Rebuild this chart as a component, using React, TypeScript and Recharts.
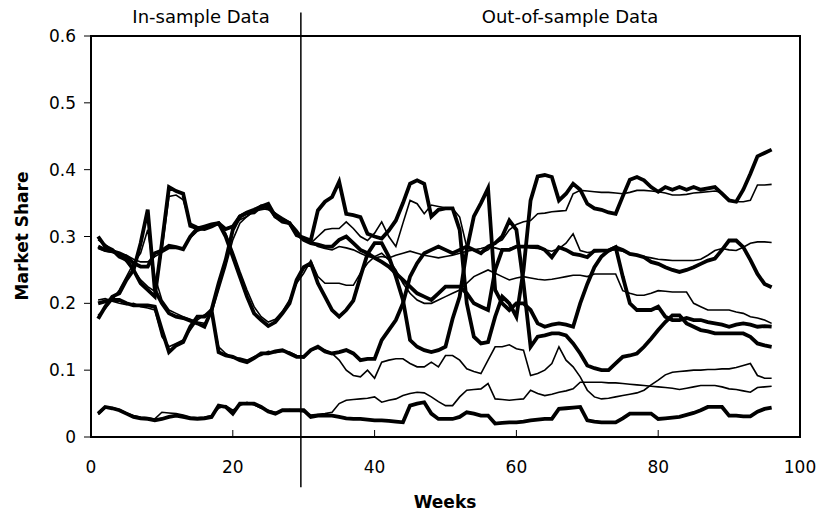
import { LineChart, Line, XAxis, YAxis, ReferenceLine, ReferenceArea } from "recharts";

// weekly market share, actual (thick) vs model (thin), brands A-E
const weeks = Array.from({ length: 96 }, (_, i) => i + 1);
const splitWeek = 29.6;

const aAct = [
  0.177, 0.195, 0.21, 0.215, 0.235, 0.25, 0.29, 0.34, 0.22, 0.2,
  0.185, 0.18, 0.178, 0.174, 0.17, 0.165, 0.19, 0.23, 0.265, 0.31,
  0.33, 0.335, 0.336, 0.345, 0.345, 0.33, 0.322, 0.32, 0.302, 0.298,
  0.294, 0.339, 0.352, 0.359, 0.382, 0.334, 0.332, 0.329, 0.304, 0.3,
  0.297, 0.309, 0.324, 0.35, 0.379, 0.384, 0.379, 0.33, 0.34, 0.342,
  0.342, 0.31, 0.2, 0.15, 0.14, 0.142, 0.18, 0.21, 0.2, 0.18,
  0.25, 0.354, 0.39, 0.392, 0.389, 0.354, 0.364, 0.379, 0.37, 0.349,
  0.342, 0.34, 0.336, 0.334, 0.36, 0.385, 0.389, 0.384, 0.374, 0.367,
  0.374, 0.37, 0.374, 0.37, 0.374, 0.37, 0.372, 0.374, 0.364, 0.354,
  0.352, 0.37, 0.394, 0.42, 0.425, 0.43,
];
const aPred = [
  0.182, 0.192, 0.205, 0.22, 0.24, 0.26, 0.275, 0.31, 0.24, 0.205,
  0.19, 0.185, 0.18, 0.176, 0.172, 0.17, 0.185, 0.22, 0.255, 0.295,
  0.32, 0.33, 0.338, 0.34, 0.342, 0.335, 0.325, 0.318, 0.305, 0.295,
  0.29, 0.3, 0.31, 0.312, 0.312, 0.322, 0.312, 0.3, 0.294, 0.305,
  0.322, 0.3, 0.285, 0.32, 0.354, 0.349, 0.334, 0.347, 0.345, 0.343,
  0.342, 0.329, 0.284, 0.279, 0.275, 0.28, 0.29, 0.295, 0.31, 0.318,
  0.322, 0.324, 0.334, 0.335, 0.337, 0.338, 0.339, 0.364, 0.369, 0.368,
  0.367, 0.366, 0.366, 0.365, 0.364, 0.366, 0.369, 0.369, 0.368, 0.367,
  0.365, 0.362, 0.362, 0.363, 0.365, 0.366, 0.367, 0.368, 0.366, 0.355,
  0.352, 0.352, 0.354, 0.377, 0.377, 0.378,
];
const bAct = [
  0.3, 0.285, 0.28, 0.27, 0.265, 0.25, 0.23, 0.22, 0.21, 0.29,
  0.374, 0.368, 0.364, 0.316, 0.312, 0.311, 0.315, 0.32, 0.311, 0.315,
  0.33, 0.336, 0.34, 0.345, 0.349, 0.33, 0.325, 0.32, 0.305, 0.295,
  0.29, 0.288, 0.285, 0.285, 0.295, 0.3, 0.29, 0.28, 0.275, 0.268,
  0.262, 0.255, 0.245, 0.235, 0.225, 0.215, 0.21, 0.205, 0.215, 0.225,
  0.225, 0.225, 0.215, 0.2, 0.195, 0.19, 0.25, 0.28, 0.28, 0.285,
  0.285, 0.285, 0.285, 0.28, 0.269, 0.284, 0.28, 0.274, 0.272, 0.269,
  0.279, 0.279, 0.279, 0.284, 0.28, 0.274, 0.272, 0.269, 0.262, 0.259,
  0.254, 0.25, 0.247, 0.25, 0.254, 0.259, 0.264, 0.267, 0.28, 0.294,
  0.294, 0.284, 0.265, 0.244, 0.229, 0.224,
];
const bPred = [
  0.295, 0.288, 0.28, 0.272, 0.262, 0.25, 0.235, 0.225, 0.218, 0.28,
  0.36, 0.362, 0.355, 0.32, 0.315, 0.312, 0.316, 0.318, 0.312, 0.316,
  0.325, 0.33, 0.338, 0.342, 0.34, 0.335, 0.328, 0.322, 0.31, 0.296,
  0.292, 0.285, 0.282, 0.28, 0.285, 0.283, 0.28, 0.275, 0.27, 0.268,
  0.27, 0.268, 0.272, 0.275, 0.278, 0.275, 0.272, 0.27, 0.268, 0.27,
  0.272, 0.275, 0.278, 0.28, 0.282, 0.285, 0.283, 0.28, 0.282, 0.285,
  0.285, 0.283, 0.282, 0.28, 0.278, 0.282, 0.29, 0.304, 0.279, 0.276,
  0.277, 0.278, 0.28, 0.28, 0.278, 0.274, 0.272, 0.27, 0.268, 0.266,
  0.265, 0.264, 0.264, 0.264, 0.264, 0.266, 0.272, 0.279, 0.282, 0.28,
  0.279, 0.284, 0.29, 0.292, 0.292, 0.291,
];
const cAct = [
  0.285, 0.28, 0.278, 0.275, 0.27, 0.26, 0.255, 0.255, 0.275, 0.279,
  0.286, 0.284, 0.281, 0.3, 0.312, 0.315, 0.318, 0.32, 0.3, 0.27,
  0.24, 0.21, 0.185, 0.175, 0.166, 0.172, 0.185, 0.2, 0.235, 0.254,
  0.26, 0.23, 0.21, 0.19, 0.18, 0.19, 0.204, 0.24, 0.274, 0.29,
  0.29, 0.27, 0.24, 0.205, 0.145, 0.135, 0.13, 0.127, 0.13, 0.135,
  0.177, 0.21, 0.28, 0.33, 0.35, 0.372, 0.22, 0.2, 0.19, 0.2,
  0.2, 0.19, 0.17, 0.165, 0.168, 0.17, 0.168, 0.165, 0.2, 0.229,
  0.254, 0.27, 0.279, 0.284, 0.24, 0.2, 0.19, 0.19, 0.19, 0.195,
  0.18, 0.175, 0.175, 0.178, 0.175, 0.175, 0.172, 0.17, 0.168, 0.165,
  0.168, 0.17, 0.168, 0.165, 0.166, 0.165,
];
const cPred = [
  0.282, 0.278, 0.276, 0.274, 0.272, 0.266, 0.262, 0.262, 0.27, 0.276,
  0.282, 0.282, 0.283, 0.298, 0.308, 0.312, 0.316, 0.318, 0.305, 0.278,
  0.248, 0.22, 0.195, 0.18, 0.172, 0.176, 0.188, 0.205, 0.23, 0.245,
  0.264, 0.24, 0.23, 0.23, 0.23, 0.227, 0.227, 0.245, 0.26, 0.27,
  0.275, 0.265, 0.25, 0.23, 0.215, 0.205, 0.2, 0.2, 0.205, 0.21,
  0.215, 0.22, 0.23, 0.24, 0.245, 0.25, 0.245, 0.24, 0.235, 0.238,
  0.24, 0.238, 0.236, 0.235, 0.236, 0.238, 0.24, 0.242, 0.242, 0.24,
  0.244, 0.244, 0.244, 0.244, 0.219, 0.215, 0.212, 0.212, 0.215, 0.219,
  0.218, 0.217, 0.217, 0.217, 0.2, 0.195, 0.19, 0.19, 0.19, 0.19,
  0.187, 0.185, 0.18, 0.178, 0.175, 0.17,
];
const dAct = [
  0.2, 0.203, 0.205, 0.205, 0.2, 0.197, 0.197, 0.197, 0.195, 0.16,
  0.127, 0.137, 0.142, 0.165, 0.18, 0.18, 0.19, 0.127, 0.122, 0.12,
  0.115, 0.112, 0.118, 0.125, 0.125, 0.128, 0.13, 0.125, 0.12, 0.12,
  0.13, 0.135, 0.128, 0.125, 0.127, 0.13, 0.125, 0.115, 0.117, 0.117,
  0.145, 0.16, 0.175, 0.2, 0.24, 0.26, 0.275, 0.28, 0.285, 0.28,
  0.275, 0.28, 0.285, 0.28, 0.275, 0.285, 0.29, 0.3, 0.324, 0.31,
  0.23, 0.135, 0.15, 0.152, 0.155, 0.155, 0.152, 0.14, 0.125, 0.107,
  0.103, 0.1, 0.1, 0.11, 0.12, 0.122, 0.125, 0.135, 0.147, 0.16,
  0.172, 0.182, 0.182, 0.17, 0.165, 0.16, 0.158, 0.155, 0.155, 0.155,
  0.155, 0.155, 0.15, 0.14, 0.137, 0.135,
];
const dPred = [
  0.205, 0.207, 0.203, 0.2, 0.198, 0.2, 0.195, 0.193, 0.19, 0.15,
  0.135, 0.14, 0.145, 0.16, 0.175, 0.183, 0.185, 0.135, 0.125, 0.118,
  0.118, 0.115, 0.12, 0.122, 0.128, 0.126, 0.128, 0.127, 0.122, 0.118,
  0.13, 0.133, 0.13, 0.125, 0.115, 0.1, 0.092, 0.09, 0.1, 0.088,
  0.112, 0.115, 0.117, 0.117, 0.11, 0.105, 0.105, 0.112, 0.105, 0.122,
  0.122, 0.115, 0.102, 0.098, 0.095, 0.115, 0.135, 0.135, 0.138, 0.132,
  0.13, 0.092, 0.095, 0.1, 0.11, 0.135, 0.115, 0.105, 0.09, 0.07,
  0.06, 0.057, 0.058, 0.06, 0.062, 0.064, 0.066, 0.07, 0.078, 0.085,
  0.093, 0.097, 0.098, 0.099, 0.1, 0.1, 0.101, 0.101, 0.102, 0.102,
  0.104, 0.107, 0.11, 0.092, 0.088, 0.088,
];
const eAct = [
  0.035, 0.045, 0.043, 0.04, 0.035, 0.03, 0.028, 0.027, 0.025, 0.027,
  0.03, 0.032, 0.03, 0.028, 0.027, 0.028, 0.03, 0.047, 0.045, 0.035,
  0.05, 0.05, 0.05, 0.045, 0.038, 0.035, 0.04, 0.04, 0.04, 0.04,
  0.03, 0.032, 0.032, 0.032, 0.03, 0.028, 0.027, 0.027, 0.026, 0.025,
  0.025, 0.024, 0.023, 0.022, 0.047, 0.05, 0.052, 0.035, 0.027, 0.027,
  0.027, 0.03, 0.037, 0.035, 0.032, 0.032, 0.02, 0.021, 0.022, 0.022,
  0.023, 0.025, 0.026, 0.027, 0.027, 0.042, 0.043, 0.044, 0.045, 0.025,
  0.023, 0.022, 0.022, 0.022, 0.028, 0.035, 0.035, 0.035, 0.035, 0.027,
  0.028, 0.029, 0.03, 0.033, 0.036, 0.04, 0.045, 0.045, 0.045, 0.032,
  0.032, 0.031, 0.031, 0.038, 0.042, 0.044,
];
const ePred = [
  0.034, 0.043, 0.044, 0.041, 0.036, 0.032, 0.03, 0.029, 0.027, 0.037,
  0.036, 0.035, 0.033, 0.03, 0.029, 0.03, 0.032, 0.043, 0.047, 0.04,
  0.047, 0.052, 0.048, 0.043, 0.04, 0.037, 0.039, 0.041, 0.039, 0.038,
  0.033, 0.034, 0.035, 0.037, 0.05, 0.055, 0.056, 0.057, 0.058, 0.06,
  0.052, 0.055, 0.057, 0.062, 0.065, 0.067, 0.066, 0.06, 0.053, 0.047,
  0.047, 0.06, 0.07, 0.071, 0.072, 0.08, 0.057, 0.056, 0.055, 0.056,
  0.057, 0.07, 0.065, 0.062, 0.064, 0.067, 0.069, 0.072, 0.082, 0.082,
  0.082, 0.082, 0.081, 0.081, 0.08, 0.079, 0.078, 0.077, 0.076, 0.075,
  0.074, 0.073, 0.071, 0.073, 0.075, 0.077, 0.077, 0.077, 0.075, 0.072,
  0.071, 0.069, 0.067, 0.074, 0.075, 0.076,
];

const xTicks = [0, 20, 40, 60, 80, 100];
const yTicks = [0, 0.1, 0.2, 0.3, 0.4, 0.5, 0.6];

const data = weeks.map((week, i) => ({
  week,
  aAct: aAct[i], aPred: aPred[i],
  bAct: bAct[i], bPred: bPred[i],
  cAct: cAct[i], cPred: cPred[i],
  dAct: dAct[i], dPred: dPred[i],
  eAct: eAct[i], ePred: ePred[i],
}));

const thin = ["aPred", "bPred", "cPred", "dPred", "ePred"];
const thick = ["aAct", "bAct", "cAct", "dAct", "eAct"];

const font = "'DejaVu Sans', sans-serif";
const tickStyle = { fill: "#000", fontSize: 17, fontFamily: font };

export default function App() {
  return (
    <div style={{ position: "relative", width: 819, height: 515, fontFamily: font, color: "#000" }}>
      <style>{"body{margin:0;overflow:hidden}"}</style>
      <LineChart width={819} height={515} data={data} margin={{ top: 36, right: 19, bottom: 0, left: 0 }}>
        <XAxis
          dataKey="week" type="number" domain={[0, 100]} ticks={xTicks}
          axisLine={false} tickLine={{ stroke: "#000", strokeWidth: 1 }}
          tickSize={-7} tickMargin={31} height={78} tick={tickStyle}
        />
        <YAxis
          type="number" domain={[0, 0.6]} ticks={yTicks} width={91}
          axisLine={false} tickLine={{ stroke: "#000", strokeWidth: 1 }}
          tickSize={7} tickMargin={8} tick={tickStyle}
          tickFormatter={(v: number) => (v === 0 ? "0" : v.toFixed(1))}
        />
        {thin.map((k) => (
          <Line key={k} dataKey={k} stroke="#000" strokeWidth={1.6} dot={false} isAnimationActive={false} />
        ))}
        {thick.map((k) => (
          <Line key={k} dataKey={k} stroke="#000" strokeWidth={3.8} dot={false} isAnimationActive={false} />
        ))}
        <ReferenceArea x1={0} x2={100} y1={0} y2={0.6} fill="none" stroke="#000" strokeWidth={2} ifOverflow="visible" />
        <ReferenceLine
          segment={[{ x: splitWeek, y: 0.635 }, { x: splitWeek, y: -0.075 }]}
          stroke="#000" strokeWidth={1.5} ifOverflow="visible"
        />
      </LineChart>
      <div style={{ position: "absolute", left: 201, top: 16, transform: "translate(-50%, -50%)", fontSize: 18, whiteSpace: "nowrap" }}>
        In-sample Data
      </div>
      <div style={{ position: "absolute", left: 570, top: 16, transform: "translate(-50%, -50%)", fontSize: 18, whiteSpace: "nowrap" }}>
        Out-of-sample Data
      </div>
      <div style={{ position: "absolute", left: 445, top: 502, transform: "translate(-50%, -50%)", fontSize: 17, fontWeight: "bold", whiteSpace: "nowrap" }}>
        Weeks
      </div>
      <div style={{ position: "absolute", left: 22, top: 236, transform: "translate(-50%, -50%) rotate(-90deg)", fontSize: 17, fontWeight: "bold", whiteSpace: "nowrap" }}>
        Market Share
      </div>
    </div>
  );
}
